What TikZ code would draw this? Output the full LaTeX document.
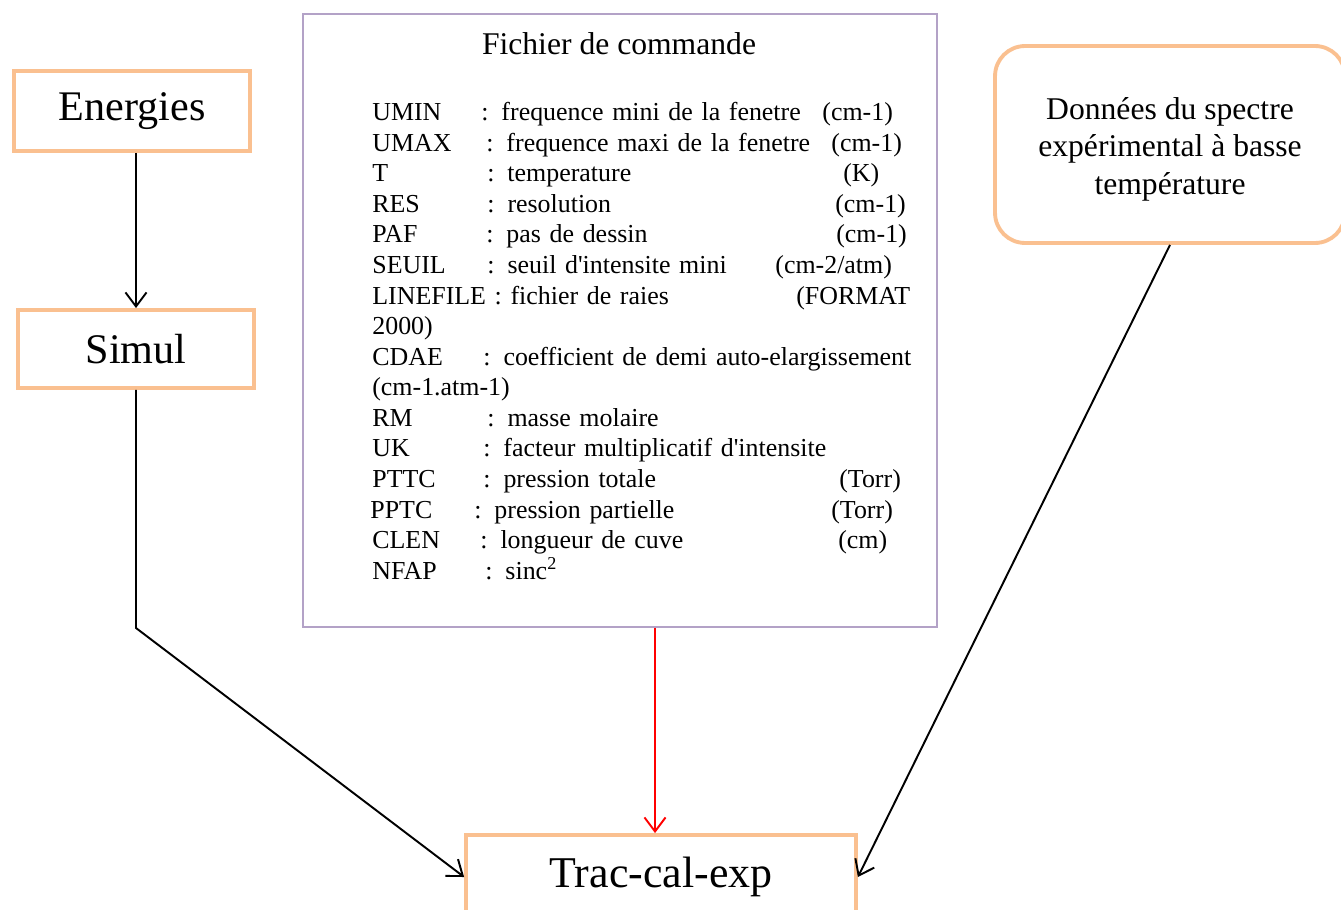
\documentclass[tikz,border=0pt]{standalone}
\usepackage{fontspec}
\setmainfont{Liberation Serif}
\usetikzlibrary{arrows.meta,positioning,calc}
\definecolor{peche}{RGB}{250,192,144}
\definecolor{lavande}{RGB}{179,162,199}
\newlength\pixel \setlength\pixel{0.02cm}
\newcommand\ligne[5]{\makebox[#2\pixel][l]{#1}\makebox[#4\pixel][l]{#3}#5\par}

\begin{document}
\begin{tikzpicture}[x=0.02cm,y=-0.02cm,
    boite/.style={draw=peche,line width=2.2pt,inner sep=0pt,
      minimum width=4.72cm,minimum height=1.6cm,font=\fontsize{24pt}{28pt}\selectfont},
    fleche/.style={line width=1.1pt,-{Straight Barb[length=8pt,width=12pt]}}]
  \useasboundingbox (0,0) rectangle (1341,909);

  \node [boite] (energies) at (132,111) {Energies};
  \node [boite,minimum height=1.56cm] (simul) at (136,349) {Simul};
  \node [boite,minimum width=7.8cm,minimum height=1.68cm,
    font=\fontsize{25pt}{29pt}\selectfont] (trac) at (661,877) {Trac-cal-exp};
  \node [boite,minimum width=7cm,minimum height=3.94cm,rounded corners=0.6cm]
    (donnees) at (1170,144.5) {};
  \node [align=center,font=\fontsize{18pt}{21.3pt}\selectfont] (spectre) at (1170,149)
    {Données du spectre\\expérimental à basse\\température};

  \node [draw=lavande,line width=0.9pt,minimum width=12.68cm,minimum height=12.26cm]
    (fichier) at (620,320.5) {};
  \node [font=\fontsize{18pt}{21pt}\selectfont] (titre) at (619,44) {Fichier de commande};
  \node [anchor=north west,inner sep=0pt,text width=11.2cm,
    font=\fontsize{14.75pt}{17.4pt}\selectfont] (params) at (372,102) {%
    \ligne{UMIN}{109}{: frequence mini de la fenetre}{341}{(cm-1)}
    \ligne{UMAX}{114}{: frequence maxi de la fenetre}{345}{(cm-1)}
    \ligne{T}{115}{: temperature}{356}{(K)}
    \ligne{RES}{115}{: resolution}{348}{(cm-1)}
    \ligne{PAF}{114}{: pas de dessin}{350}{(cm-1)}
    \ligne{SEUIL}{115}{: seuil d\textquotesingle intensite mini}{288}{(cm-2/atm)}
    \makebox[424\pixel][l]{LINEFILE : fichier de raies}(FORMAT\par
    2000)\par
    \makebox[111\pixel][l]{CDAE}: coefficient de demi auto-elargissement\par
    (cm-1.atm-1)\par
    \makebox[115\pixel][l]{RM}: masse molaire\par
    \makebox[111\pixel][l]{UK}: facteur multiplicatif d\textquotesingle intensite\par
    \ligne{PTTC}{111}{: pression totale}{356}{(Torr)}
    \hspace*{-2\pixel}\ligne{PPTC}{104}{: pression partielle}{357}{(Torr)}
    \ligne{CLEN}{108}{: longueur de cuve}{358}{(cm)}
    \makebox[113\pixel][l]{NFAP}: sinc\textsuperscript{2}\par};

  \coordinate (coude) at (136,628);
  \draw [fleche] (simul |- energies.south) -- (simul.north);
  \draw [fleche] (simul.south) -- (coude) -- (trac.west);
  \draw [fleche,red] ($(trac.north |- fichier.south)+(-6,0)$) -- ($(trac.north)+(-6,0)$);
  \draw [fleche] (donnees.south) -- (trac.east);
\end{tikzpicture}
\end{document}
